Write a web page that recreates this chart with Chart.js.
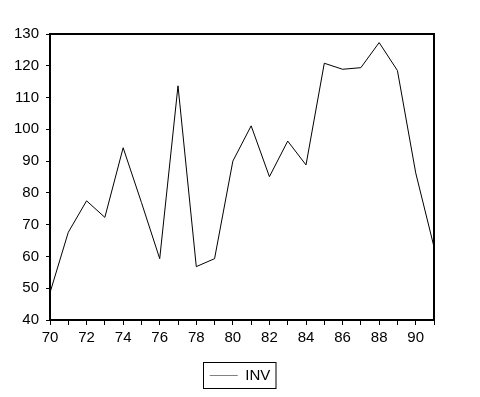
<!DOCTYPE html>
<html><head><meta charset="utf-8">
<script src="https://cdn.jsdelivr.net/npm/chart.js@4"></script>
<style>html,body{margin:0;padding:0;background:#fff}#wrap{width:480px;height:397px}</style>
</head><body><div id="wrap"><canvas id="c" width="480" height="397"></canvas></div>
<script>
const years = ['70','71','72','73','74','75','76','77','78','79','80','81','82','83','84','85','86','87','88','89','90','91'];
const inv = [48.6,67.6,77.5,72.3,94.2,77.0,59.3,113.7,56.8,59.3,90.0,101.1,85.1,96.3,88.8,120.8,118.9,119.4,127.3,118.5,86.3,63.0];
const yTicks = [40,50,60,70,80,90,100,110,120,130];
const seriesName = 'INV';

const FONT = 'Liberation Sans, Arial, sans-serif';
const boxPlugin = {
  id:'box',
  afterDraw(chart){
    const a = chart.chartArea, ctx = chart.ctx;
    ctx.save();
    ctx.strokeStyle = '#000'; ctx.lineWidth = 2;
    ctx.strokeRect(a.left, a.top, a.right-a.left, a.bottom-a.top);
    const lg = chart.legend;
    if (lg && lg.legendHitBoxes && lg.legendHitBoxes.length){
      const h = lg.legendHitBoxes[0];
      ctx.lineWidth = 1;
      ctx.strokeStyle = '#000';
      ctx.strokeRect(Math.round(h.left) - 6.5, Math.round(h.top) - 5.5, h.width + 12, h.height + 11);
    }
    ctx.restore();
  }
};
new Chart(document.getElementById('c'), {
  type:'line',
  data:{ labels: years, datasets:[{ label: seriesName, data: inv, borderColor:'#000', borderWidth:1, pointRadius:0, tension:0, fill:false, yAxisID:'y' }]},
  options:{
    responsive:false, animation:false, devicePixelRatio:1,
    layout:{ padding:{ top:34, right:0, left:0, bottom:4 } },
    plugins:{
      tooltip:{enabled:false},
      legend:{ position:'bottom', labels:{ font:{family:FONT,size:15}, color:'#000', usePointStyle:true, pointStyle:'line', pointStyleWidth:28, boxWidth:28, boxHeight:1, padding:10,
        generateLabels(chart){ return [{ text: seriesName, pointStyle:'line', strokeStyle:'#808080', fillStyle:'#808080', lineWidth:1, datasetIndex:0 }]; } } }
    },
    scales:{
      x:{ type:'category', offset:false,
        grid:{ display:true, drawOnChartArea:false, drawTicks:true, tickLength:5, color:'#000', lineWidth:1 },
        border:{ display:true, color:'#000', width:2 },
        ticks:{ autoSkip:false, maxRotation:0, font:{family:FONT,size:15}, color:'#000', padding:4,
          callback(v,i){ const l = years[i]; return (parseInt(l) % 2 === 0) ? l : ''; } },
        afterFit(s){ s.height = 38; }
      },
      y:{ min:40, max:130, position:'left',
        afterBuildTicks(s){ s.ticks = yTicks.map(v=>({value:v})); },
        grid:{ display:true, drawOnChartArea:false, drawTicks:true, tickLength:4, color:'#000', lineWidth:1 },
        border:{ display:true, color:'#000', width:2 },
        ticks:{ font:{family:FONT,size:15}, color:'#000', padding:7 },
        afterFit(s){ s.width = 50; }
      },
      yr:{ position:'right', min:40, max:130,
        grid:{ display:false, drawTicks:false }, border:{ display:false },
        ticks:{ display:false },
        afterFit(s){ s.width = 46; }
      }
    }
  },
  plugins:[boxPlugin]
});
</script></body></html>
